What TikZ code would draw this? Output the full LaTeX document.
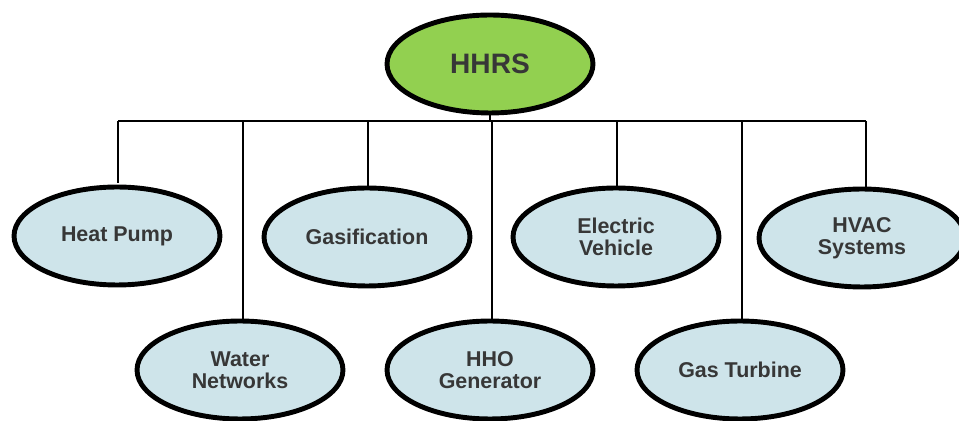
\documentclass[tikz,border=0pt]{standalone}
\usepackage{fontspec}
\setmainfont{Liberation Sans}
\usepackage{tikz}
\usetikzlibrary{shapes.geometric}

\definecolor{rootgreen}{RGB}{146,208,80}
\definecolor{leafblue}{RGB}{206,228,234}
\definecolor{labelgrey}{RGB}{55,55,55}

\tikzset{
	item/.style={ellipse, draw=black, line width=2.8pt, fill=leafblue,
		minimum width=4.12cm, minimum height=1.96cm, inner sep=0pt,
		align=center, text=labelgrey, font=\bfseries\fontsize{12.2}{12.6}\selectfont},
	root/.style={item, fill=rootgreen, font=\bfseries\fontsize{16}{18}\selectfont},
	link/.style={draw=black, line width=1.4pt}
}

\begin{document}
\begin{tikzpicture}[x=0.02cm, y=-0.02cm]
		\useasboundingbox (0,0) rectangle (959,421);
		
		\node[root] (hhrs) at (490,64) {HHRS};
		
		\node[item] (hp)   at (117,236) {Heat Pump};
		\node[item] (gas)  at (367,237) {Gasification};
		\node[item] (ev)   at (616,237) {Electric\\Vehicle};
		\node[item] (hvac) at (862,238) {HVAC\\Systems};
		
		\node[item] (wn)   at (240,370) {Water\\Networks};
		\node[item] (hho)  at (490,370) {HHO\\Generator};
		\node[item] (gt)   at (740,370) {Gas Turbine};
		
		\coordinate (bar) at (492,121);
		
		\draw[link] (hhrs.south) -- (hhrs.south |- bar);
		\draw[link] (118,121) -- (866,121);
		
		\draw[link] (118,121) -- (118,183);
		\draw[link] (243,121) -- (wn.north -| 243,0);
		\draw[link] (368,121) -- (gas.north -| 368,0);
		\draw[link] (492,121) -- (hho.north -| 492,0);
		\draw[link] (617,121) -- (ev.north -| 617,0);
		\draw[link] (742,121) -- (gt.north -| 742,0);
		\draw[link] (866,121) -- (hvac.north -| 866,0);
		\end{tikzpicture}
\end{document}
